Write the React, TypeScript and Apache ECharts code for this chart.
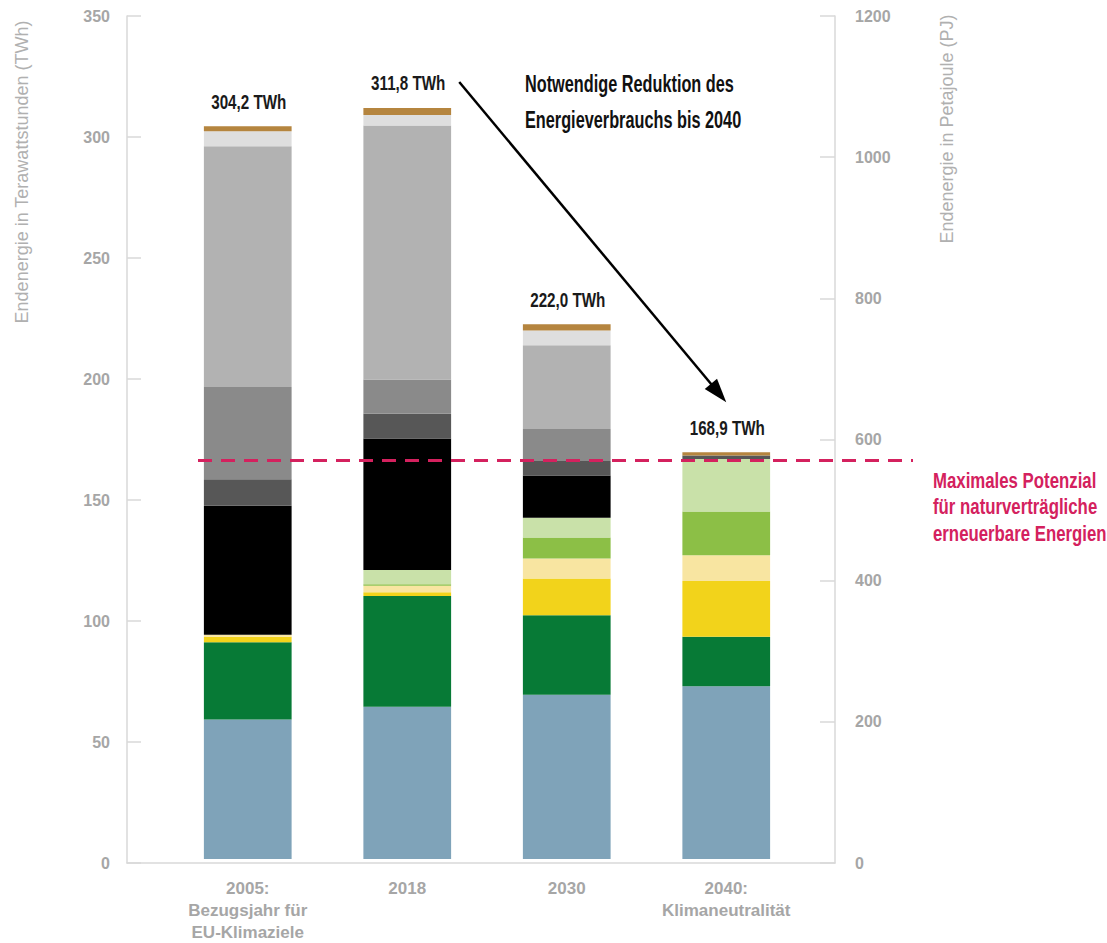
import React, { useEffect, useRef } from "react";
import * as echarts from "echarts";

const categories = [
  "2005:\nBezugsjahr für\nEU-Klimaziele",
  "2018",
  "2030",
  "2040:\nKlimaneutralität",
];

// stacked segments, bottom to top (TWh)
const blueValues = [57.9, 63.2, 68.2, 71.7];
const darkGreenValues = [32.1, 46.0, 33.0, 20.6];
const yellowValues = [2.3, 1.5, 15.3, 23.1];
const lightYellowValues = [0.8, 2.8, 8.3, 10.7];
const midGreenValues = [0, 0.6, 8.7, 18.2];
const lightGreenValues = [0, 5.9, 8.2, 21.8];
const blackValues = [53.6, 54.6, 17.5, 0];
const darkGrayValues = [11.0, 10.3, 6.0, 1.4];
const midGrayValues = [38.3, 14.2, 13.3, 0];
const lightGrayValues = [99.9, 105.4, 34.8, 0];
const paleGrayValues = [6.3, 4.4, 6.1, 0];
const brownValues = [2.0, 2.9, 2.6, 1.4];

const totals = [304.2, 311.8, 222.0, 168.9];

const leftTicks = { min: 0, max: 350, interval: 50 };
const rightTicks = { min: 0, max: 1200, interval: 200 };
const potentialLimit = 165.5;

const segments = [
  { name: "Segment blau", data: blueValues, color: "#7fa3b9" },
  { name: "Segment dunkelgrün", data: darkGreenValues, color: "#077a36" },
  { name: "Segment gelb", data: yellowValues, color: "#f2d31b" },
  { name: "Segment hellgelb", data: lightYellowValues, color: "#f8e5a1" },
  { name: "Segment grün", data: midGreenValues, color: "#8cbf46" },
  { name: "Segment hellgrün", data: lightGreenValues, color: "#c9e1a9" },
  { name: "Segment schwarz", data: blackValues, color: "#000000" },
  { name: "Segment dunkelgrau", data: darkGrayValues, color: "#575757" },
  { name: "Segment grau", data: midGrayValues, color: "#8a8a8a" },
  { name: "Segment hellgrau", data: lightGrayValues, color: "#b2b2b2" },
  { name: "Segment blassgrau", data: paleGrayValues, color: "#dedede" },
  { name: "Segment braun", data: brownValues, color: "#b5853f" },
];

const ARIAL = '"Liberation Sans", Arial, sans-serif';
const AXIS_GRAY = "#a6a6a6";
const LINE_GRAY = "#d9d9d9";
const PINK = "#d4215e";

const fmt = (v: number) => v.toFixed(1).replace(".", ",") + " TWh";

export default function App() {
  const ref = useRef<HTMLDivElement>(null);

  useEffect(() => {
    if (!ref.current) return;
    const chart = echarts.init(ref.current, undefined, { renderer: "svg" });

    const option: any = {
      animation: false,
      backgroundColor: "#ffffff",
      grid: [
        { left: 127, right: 272, top: 16, bottom: 80 },
        { left: 168, right: 301, top: 16, bottom: 80 },
      ],
      xAxis: [
        {
          gridIndex: 0,
          type: "value",
          min: 0,
          max: 1,
          axisLine: { show: true, onZero: false, lineStyle: { color: LINE_GRAY, width: 1.5 } },
          axisTick: { show: false },
          axisLabel: { show: false },
          splitLine: { show: false },
        },
        {
          gridIndex: 1,
          type: "category",
          data: categories,
          axisLine: { show: false },
          axisTick: { show: false },
          axisLabel: {
            color: AXIS_GRAY,
            fontFamily: ARIAL,
            fontWeight: "bold",
            fontSize: 17,
            lineHeight: 22,
            margin: 18,
            interval: 0,
          },
        },
      ],
      yAxis: [
        {
          gridIndex: 0,
          type: "value",
          position: "left",
          min: leftTicks.min,
          max: leftTicks.max,
          interval: leftTicks.interval,
          axisLine: { show: true, lineStyle: { color: LINE_GRAY, width: 1.5 } },
          axisTick: { show: true, inside: true, length: 14, lineStyle: { color: LINE_GRAY, width: 1.5 } },
          axisLabel: {
            color: AXIS_GRAY,
            fontFamily: ARIAL,
            fontWeight: "bold",
            fontSize: 16,
            margin: 17,
            formatter: (v: number) => String(v),
          },
          splitLine: { show: false },
        },
        {
          gridIndex: 0,
          type: "value",
          position: "right",
          min: rightTicks.min,
          max: rightTicks.max,
          interval: rightTicks.interval,
          axisLine: { show: true, lineStyle: { color: LINE_GRAY, width: 1.5 } },
          axisTick: { show: true, inside: true, length: 15, lineStyle: { color: LINE_GRAY, width: 1.5 } },
          axisLabel: {
            color: AXIS_GRAY,
            fontFamily: ARIAL,
            fontWeight: "bold",
            fontSize: 16,
            margin: 20,
            formatter: (v: number) => String(v),
          },
          splitLine: { show: false },
        },
        {
          gridIndex: 1,
          type: "value",
          min: leftTicks.min,
          max: leftTicks.max,
          show: false,
        },
      ],
      series: segments.map((s) => ({
        type: "bar",
        name: s.name,
        xAxisIndex: 1,
        yAxisIndex: 2,
        stack: "total",
        barWidth: "55%",
        data: s.data,
        itemStyle: { color: s.color },
      })),
    };

    chart.setOption(option);

    const px = (cat: string) => chart.convertToPixel({ xAxisIndex: 1 } as any, cat) as number;
    const py = (v: number) => chart.convertToPixel({ yAxisIndex: 2 } as any, v) as number;

    const limitY = py(potentialLimit);

    // total labels above the bars
    const totalLabels = totals.map((t, i) => ({
      type: "text",
      z: 100,
      x: px(categories[i]) + 1,
      y: py(t) - 25,
      scaleX: 0.8,
      scaleY: 1.1,
      style: {
        text: fmt(t),
        fontFamily: ARIAL,
        fontWeight: "bold",
        fontSize: 19,
        fill: "#1a1a1a",
        textAlign: "center",
        textVerticalAlign: "middle",
      },
    }));

    // arrow from 2018 label to 2040 label
    const sx = px(categories[1]) + 52;
    const sy = py(totals[1]) - 26;
    const ex = px(categories[3]);
    const ey = py(totals[3]) - 50;
    const dx = ex - sx;
    const dy = ey - sy;
    const len = Math.sqrt(dx * dx + dy * dy);
    const ux = dx / len;
    const uy = dy / len;
    const headLen = 24;
    const headHalf = 8;
    const bx = ex - ux * headLen;
    const by = ey - uy * headLen;
    const nx = -uy;
    const ny = ux;

    chart.setOption({
      graphic: [
        {
          type: "line",
          z: 100,
          shape: { x1: 198, y1: limitY, x2: 913, y2: limitY },
          style: { stroke: PINK, lineWidth: 3, lineDash: [14, 9] },
        },
        {
          type: "line",
          z: 100,
          shape: { x1: sx, y1: sy, x2: bx + ux * 2, y2: by + uy * 2 },
          style: { stroke: "#000", lineWidth: 2.5 },
        },
        {
          type: "polygon",
          z: 100,
          shape: {
            points: [
              [ex, ey],
              [bx + nx * headHalf, by + ny * headHalf],
              [bx - nx * headHalf, by - ny * headHalf],
            ],
          },
          style: { fill: "#000" },
        },
        ...totalLabels,
        {
          type: "text",
          z: 100,
          x: 525,
          y: 65,
          scaleX: 0.74,
          scaleY: 1.08,
          style: {
            text: "Notwendige Reduktion des\nEnergieverbrauchs bis 2040",
            fontFamily: ARIAL,
            fontWeight: "bold",
            fontSize: 22,
            lineHeight: 34,
            fill: "#111",
            textAlign: "left",
            textVerticalAlign: "top",
          },
        },
        {
          type: "text",
          z: 100,
          x: 933,
          y: 467,
          scaleX: 0.84,
          scaleY: 1.1,
          style: {
            text: "Maximales Potenzial\nfür naturverträgliche\nerneuerbare Energien",
            fontFamily: ARIAL,
            fontWeight: "bold",
            fontSize: 20,
            lineHeight: 24,
            fill: PINK,
            textAlign: "left",
            textVerticalAlign: "top",
          },
        },
        {
          type: "text",
          z: 100,
          x: 22,
          y: 172,
          rotation: Math.PI / 2,
          style: {
            text: "Endenergie in Terawattstunden (TWh)",
            fontFamily: ARIAL,
            fontSize: 18,
            fill: "#b0b0b0",
            textAlign: "center",
            textVerticalAlign: "middle",
          },
        },
        {
          type: "text",
          z: 100,
          x: 947,
          y: 129,
          rotation: Math.PI / 2,
          style: {
            text: "Endenergie in Petajoule (PJ)",
            fontFamily: ARIAL,
            fontSize: 18,
            fill: "#b0b0b0",
            textAlign: "center",
            textVerticalAlign: "middle",
          },
        },
      ],
    });

    return () => chart.dispose();
  }, []);

  return (
    <div
      ref={ref}
      style={{ position: "fixed", left: 0, top: 0, width: 1107, height: 943, background: "#fff" }}
    />
  );
}
